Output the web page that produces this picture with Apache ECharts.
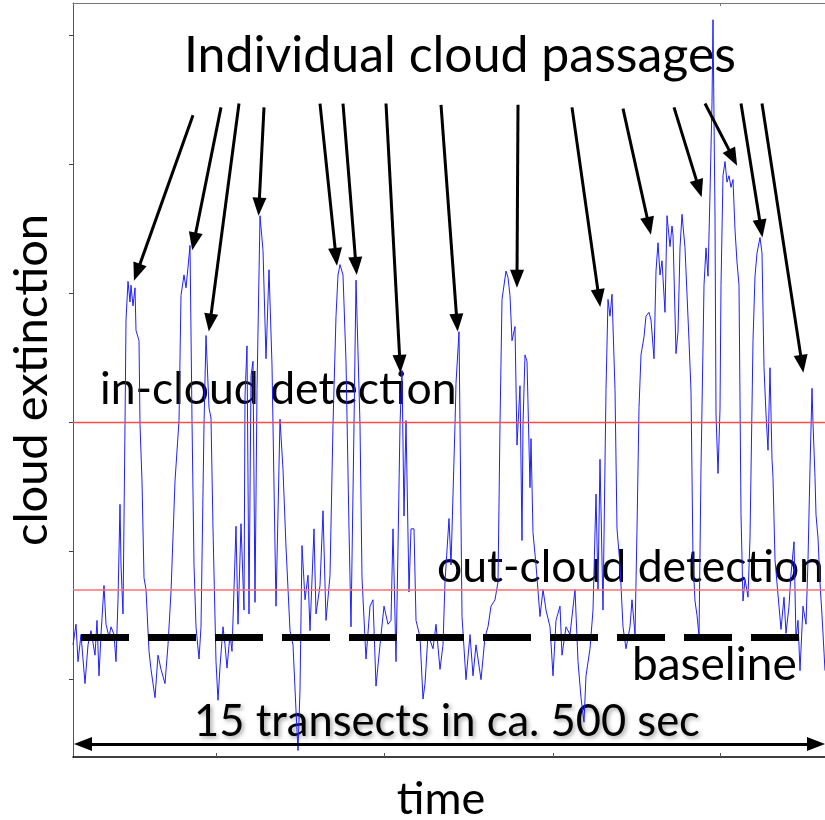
<!DOCTYPE html>
<html>
<head>
<meta charset="utf-8">
<script src="https://cdn.jsdelivr.net/npm/echarts@6/dist/echarts.min.js"></script>
<style>
html,body{margin:0;padding:0;background:#fff}
#chart{width:825px;height:820px}
</style>
</head>
<body>
<div id="chart"></div>
<script>
// sample index along the flight track (one unit per sample)
var sampleIdx = [
  0,3,5,8,12,15,18,22,24,26,28,31,33,36,38,41,43,45,47,48,50,52,53,55,57,58,60,62,63,66,67,69,71,73,76,78,82,85,88,92,95,98,
  102,106,108,111,113,115,117,119,121,123,126,128,131,133,136,138,140,143,145,147,
  150,152,154,157,159,163,165,168,171,172,174,176,178,180,182,184,187,190,193,196,199,203,207,210,213,217,220,223,225,227,229,
  232,235,237,241,243,247,250,253,257,260,263,265,267,270,273,276,278,281,283,287,289,293,297,
  300,303,307,311,315,318,320,323,325,327,329,331,333,336,338,341,343,347,350,352,355,360,363,367,370,372,376,378,382,383,386,
  387,389,393,397,400,403,408,412,415,418,422,425,427,429,433,435,437,439,442,444,447,449,
  450,452,454,457,458,460,463,467,470,473,477,480,483,487,489,493,497,502,505,508,511,513,517,520,523,525,527,530,533,535,537,
  539,542,544,547,550,553,557,559,562,564,566,568,571,573,576,578,581,583,585,587,589,592,594,597,599,
  600,603,605,607,609,612,613,616,618,620,622,624,626,628,631,633,635,637,639,640,642,643,645,647,648,650,652,654,656,658,660,
  662,664,666,668,670,672,675,677,680,682,684,687,689,691,693,695,697,699,700,702,704,706,708,711,713,716,718,721,723,725,727,
  730,733,735,737,739,740,742,743,745,747,749,752
];
var extinction = [
  0.27,0.43,0.14,0.35,-0.03,0.27,0.38,0.19,0.46,0.03,0.35,0.73,0.43,0.33,0.41,0.35,0.14,0.62,1.36,0.89,0.51,1.98,2.79,3.09,2.93,3.06,2.90,3.04,2.71,2.63,1.98,1.54,0.79,0.70,0.22,0.08,-0.14,0.19,0.08,-0.03,0.27,0.68,
  1.54,2.01,2.98,3.14,3.04,3.20,3.37,2.01,0.89,0.41,0.16,0.41,1.98,2.67,2.11,2.03,1.17,0.14,-0.16,0.10,
  0.41,0.27,0.09,0.35,0.22,1.19,0.43,1.21,0.54,2.20,2.59,0.51,2.36,2.47,0.60,2.25,3.60,3.33,2.49,3.18,2.44,0.57,2.02,1.63,1.03,0.38,0.27,-0.24,-0.55,-0.08,1.04,
  0.62,0.81,0.38,1.17,0.51,0.73,1.31,0.46,0.81,1.98,2.82,3.14,3.22,3.14,2.47,1.17,0.41,1.98,3.10,1.98,0.79,0.16,0.57,
  0.62,-0.05,0.27,0.57,0.43,0.46,1.17,0.14,1.03,1.98,2.40,1.27,2.01,0.68,1.17,1.17,0.46,0.33,-0.15,-0.03,0.35,0.24,0.43,0.08,0.27,0.76,1.25,0.89,1.98,2.30,2.70,
  1.98,0.49,0.00,0.35,0.03,0.27,0.00,0.33,0.41,0.57,0.62,0.76,1.98,2.95,3.17,3.12,2.98,2.63,2.74,1.82,2.28,1.08,
  1.98,2.52,2.47,1.49,1.87,1.14,0.89,0.49,0.70,0.54,0.41,0.03,0.46,0.57,0.19,0.41,0.35,0.70,0.14,-0.14,-0.33,0.03,0.24,0.54,1.44,0.70,1.71,0.54,2.25,2.95,2.82,
  2.99,2.25,1.17,0.89,0.41,0.24,0.41,0.62,0.35,1.17,2.11,2.52,2.66,2.82,2.85,2.79,2.49,3.17,3.39,3.14,3.25,2.85,3.60,3.36,3.52,
  3.45,2.53,2.70,3.35,3.61,3.35,3.17,2.63,2.24,0.93,0.61,0.50,0.34,1.64,3.06,3.35,3.13,3.77,4.48,5.12,3.59,2.06,1.60,2.10,3.06,3.91,4.02,3.86,3.91,3.82,3.88,
  3.49,3.24,3.06,1.28,0.61,0.78,0.64,1.10,2.63,3.13,3.31,3.43,3.31,2.42,2.06,1.78,2.42,1.71,1.57,0.93,0.75,0.57,0.39,0.64,0.36,0.57,0.82,1.07,0.32,0.46,0.07,
  0.57,0.43,0.93,1.64,2.26,1.99,1.57,1.28,1.10,0.75,0.50,0.07
];

var inCloudLevel = 2.0;
var outCloudLevel = 0.70;
var baselineLevel = 0.326;
var baselineFrom = 8, baselineTo = 726;
var spanLevel = -0.50;

// arrows pointing at the individual cloud passages: tail -> tip
var arrowTails = [[120,4.38],[148,4.44],[166,4.47],[191,4.44],[247,4.47],[270,4.47],[313,4.47],[368,4.46],
                  [445,4.46],[499,4.44],[550,4.43],[601,4.44],[632,4.47],[668,4.47],[689,4.47]];
var arrowTips  = [[64,3.16],[121,3.40],[137,2.77],[186,3.67],[263,3.28],[283,3.21],[327,2.45],[384,2.77],
                  [444,3.11],[526,2.96],[576,3.52],[626,3.81],[660,4.05],[688,3.50],[729,2.45]];

var yTicks = [0,1,2,3,4,5];
var xTicks = [143,311,480,647];

var chart = echarts.init(document.getElementById('chart'));

var seriesData = sampleIdx.map(function(s,i){ return [s, extinction[i]]; });

var arrowLines = arrowTails.map(function(t,i){
  return [{coord:t},{coord:arrowTips[i]}];
});

var font = 'Lato, "Open Sans", sans-serif';
function txt(str, x, y, size, align, extra){
  var st = {text:str,font:size+'px '+font,fill:'#000',align:align,verticalAlign:'middle',textAlign:align,textVerticalAlign:'middle'};
  for (var k in extra) st[k] = extra[k];
  return {type:'text',x:x,y:y,style:st};
}

var option = {
  animation:false,
  backgroundColor:'#fff',
  grid:{left:73,right:0,top:3,bottom:63},
  xAxis:[{
    type:'value', min:0, max:752,
    axisLine:{show:true,onZero:false,lineStyle:{color:'#000',width:1.5}},
    axisTick:{show:true,inside:true,length:4,customValues:xTicks,lineStyle:{color:'#555'}},
    axisLabel:{show:false},
    splitLine:{show:false}
  },{
    type:'value', min:0, max:752, position:'top',
    axisLine:{show:true,onZero:false,lineStyle:{color:'#777',width:1}},
    axisTick:{show:true,inside:true,length:3,customValues:[647],lineStyle:{color:'#777'}},
    axisLabel:{show:false},
    splitLine:{show:false}
  }],
  yAxis:{
    type:'value', min:-0.6, max:5.25,
    axisLine:{show:true,onZero:false,lineStyle:{color:'#555',width:1}},
    axisTick:{show:true,inside:false,length:4,customValues:yTicks,lineStyle:{color:'#444'}},
    axisLabel:{show:false},
    splitLine:{show:false}
  },
  series:[{
    type:'line',
    data:seriesData,
    showSymbol:false,
    lineStyle:{color:'#1f1fff',width:1},
    z:2,
    markLine:{
      silent:true,
      symbol:['none','none'],
      label:{show:false},
      data:[
        {yAxis:inCloudLevel, lineStyle:{color:'#ff4a4a',width:1.4,type:'solid'}},
        {yAxis:outCloudLevel, lineStyle:{color:'#ff7070',width:1.6,type:'solid'}}
      ]
    }
  },{
    type:'line',
    data:[],
    z:5,
    markLine:{
      silent:true,
      label:{show:false},
      symbol:['none','triangle'],
      symbolSize:[14,18],
      lineStyle:{color:'#000',width:3,type:'solid'},
      data:arrowLines.concat([
        [{coord:[baselineFrom,baselineLevel],symbol:'none',lineStyle:{width:7,type:[48,19],cap:'butt'}},
         {coord:[baselineTo,baselineLevel],symbol:'none'}],
        [{coord:[10,spanLevel],symbol:'triangle',lineStyle:{width:3}},
         {coord:[743,spanLevel],symbol:'triangle'}]
      ])
    }
  }],
  graphic:[
    txt('Individual cloud passages', 460, 56, 50, 'center'),
    txt('in-cloud detection', 100, 390, 44.5, 'left'),
    txt('out-cloud detection', 437, 568, 44.5, 'left'),
    txt('baseline', 632, 665, 46, 'left'),
    txt('15 transects in ca. 500 sec', 447, 722, 43.5, 'center',
        {textShadowColor:'rgba(0,0,0,0.35)',textShadowBlur:4,textShadowOffsetX:2,textShadowOffsetY:2}),
    (function(){ var t = txt('cloud extinction', 32, 380, 47, 'center'); t.rotation = Math.PI/2; return t; })(),
    txt('time', 441, 799, 45, 'center')
  ]
};
chart.setOption(option);
</script>
</body>
</html>
